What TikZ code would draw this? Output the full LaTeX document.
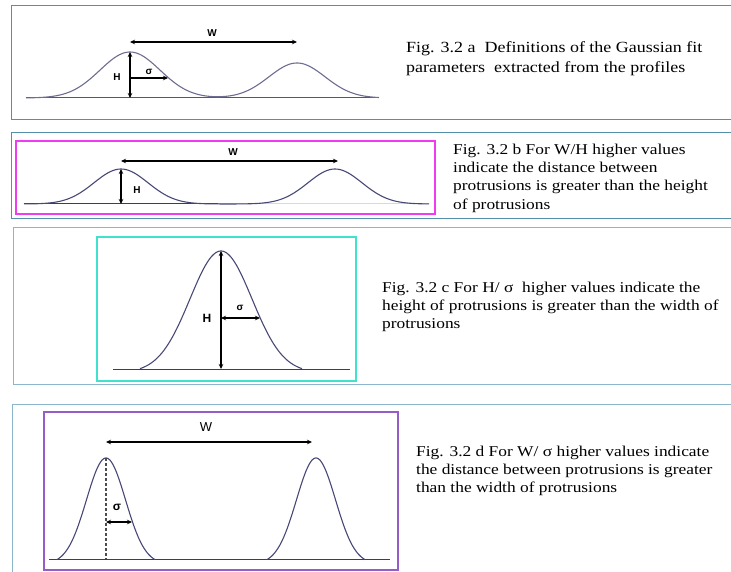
\documentclass[tikz,border=0pt]{standalone}
\usepackage{fontspec}
\setmainfont{Liberation Serif}[FakeStretch=1.16]
\newfontfamily\labfont{Liberation Sans}
\usetikzlibrary{arrows.meta,positioning}
\definecolor{framec}{RGB}{84,144,170}
\definecolor{framel}{RGB}{140,182,204}
\definecolor{curvec}{RGB}{72,72,118}
\definecolor{magframe}{RGB}{240,60,240}
\definecolor{cyanframe}{RGB}{64,226,206}
\definecolor{purpframe}{RGB}{150,92,200}

\tikzset{
  panel/.style={framec,line width=1pt},
  curve/.style={curvec,line width=1.1pt},
  baseln/.style={black!75,line width=1pt},
  dimarrow/.style={<->,black,line width=1.1pt},
  lab/.style={font=\labfont\bfseries\fontsize{10}{11}\selectfont,inner sep=0pt},
  caption/.style={font=\fontsize{15}{18.3}\selectfont,align=left,anchor=north west,inner sep=0pt},
  declare function={g(\x,\m,\s)=exp(-min((((\x-\m)/\s)^2)/2,9));}
}

\begin{document}
\begin{tikzpicture}[x=1pt,y=-1pt,>={Stealth[length=5pt,width=4.5pt]}]
\useasboundingbox (0,0) rectangle (731,572);

% outer frames, open at the right
\draw[panel] (731,6) -- (11,6) -- (11,120) -- (731,120);
\draw[panel] (731,133) -- (11,133) -- (11,219) -- (731,219);
\draw[panel,framel] (731,228) -- (13,228) -- (13,384) -- (731,384);
\draw[panel,framel] (731,404) -- (12,404) -- (12,572);

% --- a: two gaussians on one base line
\draw[baseln,black!65] (26,98) -- (379,98);
\draw[curve,curvec!80] plot[domain=26:379,samples=160] (\x,{98-46*g(\x,130,30)-35*g(\x,297,28)});
\coordinate (pa1) at (130,52);
\coordinate (ba1) at (130,98);
\coordinate (wa1) at (130,42);
\coordinate (wa2) at (297,42);
\coordinate (sa1) at (130,78);
\coordinate (sa2) at (168,78);
\draw[dimarrow] (wa1) -- (wa2);
\draw[dimarrow] (pa1) -- (ba1);
\draw[->,black,line width=1.1pt] (sa1) -- (sa2);
\node[lab] (Wa) at (212,33) {W};
\node[lab] (Ha) at (117,77) {H};
\node[lab] (sga) at (149,72) {σ};
\node[caption,font=\fontsize{15.5}{20}\selectfont] (capa) at (406,41.5)
  {Fig. 3.2 a\ \ Definitions of the Gaussian fit\\parameters\ \ extracted from the profiles};

% --- b
\draw[magframe,line width=1.3pt] (16,141) rectangle (435,214);
\draw[baseln] (24,204) -- (218,204);
\draw[black!15,line width=1pt] (218,204) -- (429,204);
\draw[curve] plot[domain=24:429,samples=160] (\x,{204-35*g(\x,121,27)-35*g(\x,335,27)});
\coordinate (pb1) at (121,169);
\coordinate (bb1) at (121,204);
\coordinate (wb1) at (121,161);
\coordinate (wb2) at (338,161);
\draw[dimarrow] (wb1) -- (wb2);
\draw[dimarrow] (pb1) -- (bb1);
\node[lab] (Wb) at (233,152) {W};
\node[lab] (Hb) at (137,190) {H};
\node[caption] (capb) at (453,143.5)
  {Fig. 3.2 b For W/H higher values\\indicate the distance between\\protrusions is greater than the height\\of protrusions};

% --- c
\draw[cyanframe,line width=1.6pt] (97,237) rectangle (356,381);
\draw[baseln] (113,369) -- (350,369);
\draw[curve] plot[domain=140:302,samples=120] (\x,{369-118*(g(\x,221,31)-0.030)/0.970});
\coordinate (pc) at (221,251);
\coordinate (bc) at (221,369);
\coordinate (sc1) at (221,318);
\coordinate (sc2) at (260,318);
\draw[dimarrow] (pc) -- (bc);
\draw[dimarrow] (sc1) -- (sc2);
\node[lab,font=\labfont\bfseries\fontsize{12}{13}\selectfont] (Hc) at (207,318) {H};
\node[lab] (sgc) at (240,308) {σ};
\node[caption] (capc) at (382,281.5)
  {Fig. 3.2 c For H/ σ\ \ higher values indicate the\\height of protrusions is greater than the width of\\protrusions};

% --- d
\draw[purpframe,line width=1.5pt] (44,412) rectangle (398,570);
\draw[baseln] (49,559) -- (390,559);
\draw[curve] plot[domain=57:155,samples=100] (\x,{559-101*(g(\x,106,19.5)-0.048)/0.952});
\draw[curve] plot[domain=267:365,samples=100] (\x,{559-101*(g(\x,316,19.5)-0.048)/0.952});
\coordinate (pd) at (106,458);
\coordinate (bd) at (106,559);
\coordinate (wd1) at (106,442);
\coordinate (wd2) at (312,442);
\coordinate (sd1) at (106,522);
\coordinate (sd2) at (132,522);
\draw[black!70,dash pattern=on 3pt off 2pt,line width=1.2pt] (pd) -- (bd);
\draw[dimarrow] (wd1) -- (wd2);
\draw[dimarrow] (sd1) -- (sd2);
\node[lab,font=\labfont\fontsize{13}{14}\selectfont] (Wd) at (206,427) {W};
\node[lab,font=\labfont\bfseries\fontsize{12}{13}\selectfont] (sgd) at (117,507) {σ};
\node[caption] (capd) at (416,445.5)
  {Fig. 3.2 d For W/ σ higher values indicate\\the distance between protrusions is greater\\than the width of protrusions};
\end{tikzpicture}
\end{document}
